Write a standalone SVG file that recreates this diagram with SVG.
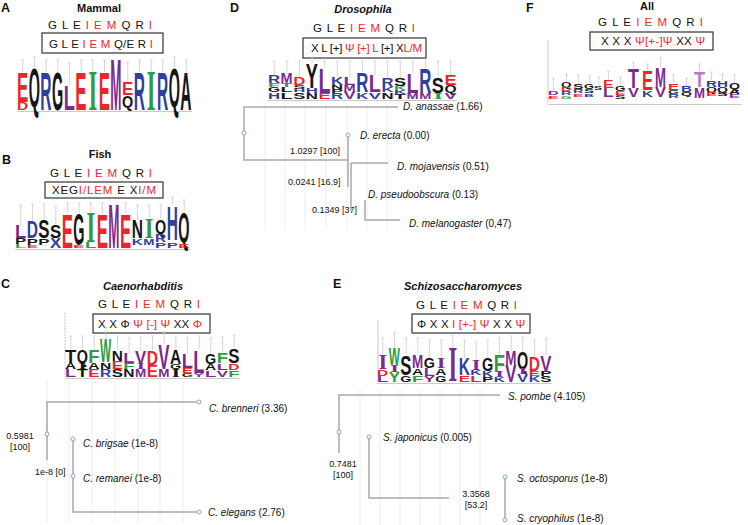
<svg xmlns="http://www.w3.org/2000/svg" width="748" height="525" viewBox="0 0 748 525">
<style>
.t{font-family:"Liberation Sans",Arial,sans-serif;fill:#111}
.lg{font-family:"Liberation Sans",Arial,sans-serif;font-weight:bold;font-size:10px}
.ls{font-family:"Liberation Serif","Times New Roman",serif;font-weight:bold;font-size:10px}
.r{fill:#e8262c}.b{fill:#2e3f9e}.k{fill:#151515}.p{fill:#7b2b8f}.g{fill:#2e9b45}.lp{fill:#b67ac4}
.red{fill:#ea2a2f}
.seq{font-size:11.5px}
.pl{font-size:12.5px;font-weight:bold}
.ttl{font-size:11px;font-weight:bold;text-anchor:middle}
.lbl{font-size:10px}
.num{font-size:9px}
.mid{text-anchor:middle}
.box{fill:none;stroke:#333;stroke-width:1.2}
.eb{fill:none;stroke:#cdcdcd;stroke-width:0.8}
.ax{fill:none;stroke:#bdbdbd;stroke-width:0.8}
.grid{fill:none;stroke:#ededed;stroke-width:1}
.tree{fill:none;stroke:#a9a9a9;stroke-width:1.5}
.node{fill:#fff;stroke:#8aa6d0;stroke-width:1}
</style>

<!-- Panel A -->
<g id="panelA">
<text class="t pl" x="1" y="12">A</text>
<text class="t ttl" x="99" y="12">Mammal</text>
<text class="t seq" x="48" y="29" textLength="104" lengthAdjust="spacing">G L E <tspan class="red">I E M</tspan> Q R <tspan class="red">I</tspan></text>
<rect class="box" x="42" y="33" width="121" height="20"/>
<text class="t seq" x="49" y="48" textLength="104" lengthAdjust="spacing">G L E <tspan class="red">I E M</tspan> Q/E R <tspan class="red">I</tspan></text>
<path class="eb" d="M21.3 60h3m-1.5 0v12 M33 57h3m-1.5 0v10 M44.7 60h3m-1.5 0v12 M56.3 60h3m-1.5 0v12 M68 63h3m-1.5 0v22 M79.7 60h3m-1.5 0v12 M91.3 60h3m-1.5 0v12 M103 60h3m-1.5 0v12 M126.3 62h3m-1.5 0v20 M138 60h3m-1.5 0v12 M149.7 60h3m-1.5 0v12 M161.3 60h3m-1.5 0v12 M173 57h3m-1.5 0v10 M184.7 60h3m-1.5 0v12"/>
<path class="ax" d="M17 111.5H192"/>
<g transform="translate(17,110)">
<text class="lg r" transform="translate(0,-8) scale(1,4.19)" textLength="11.2" lengthAdjust="spacingAndGlyphs">E</text>
<text class="lg r" transform="translate(0,0) scale(1,1.12)" textLength="11.2" lengthAdjust="spacingAndGlyphs">D</text>
<text class="lg k" transform="translate(11.7,-3) scale(1,5.59)" textLength="11.2" lengthAdjust="spacingAndGlyphs">Q</text>
<text class="lg b" transform="translate(23.3,0) scale(1,5.31)" textLength="11.2" lengthAdjust="spacingAndGlyphs">R</text>
<text class="lg k" transform="translate(35,0) scale(1,5.31)" textLength="11.2" lengthAdjust="spacingAndGlyphs">G</text>
<text class="lg p" transform="translate(46.7,0) scale(1,3.49)" textLength="11.2" lengthAdjust="spacingAndGlyphs">L</text>
<text class="lg r" transform="translate(58.3,0) scale(1,5.31)" textLength="11.2" lengthAdjust="spacingAndGlyphs">E</text>
<text class="ls g" transform="translate(71.5,0) scale(1,5.74)" textLength="8.7" lengthAdjust="spacingAndGlyphs">I</text>
<text class="lg r" transform="translate(81.7,0) scale(1,5.31)" textLength="11.2" lengthAdjust="spacingAndGlyphs">E</text>
<text class="lg p" transform="translate(93.3,0) scale(1,7.26)" textLength="11.2" lengthAdjust="spacingAndGlyphs">M</text>
<text class="lg r" transform="translate(105,-15) scale(1,1.82)" textLength="11.2" lengthAdjust="spacingAndGlyphs">E</text>
<text class="lg k" transform="translate(105,-2) scale(1,1.68)" textLength="11.2" lengthAdjust="spacingAndGlyphs">Q</text>
<text class="lg b" transform="translate(116.7,0) scale(1,5.31)" textLength="11.2" lengthAdjust="spacingAndGlyphs">R</text>
<text class="ls g" transform="translate(129.8,0) scale(1,5.74)" textLength="8.7" lengthAdjust="spacingAndGlyphs">I</text>
<text class="lg b" transform="translate(140,0) scale(1,5.31)" textLength="11.2" lengthAdjust="spacingAndGlyphs">R</text>
<text class="lg k" transform="translate(151.7,-3) scale(1,5.59)" textLength="11.2" lengthAdjust="spacingAndGlyphs">Q</text>
<text class="lg k" transform="translate(163.3,0) scale(1,5.31)" textLength="11.2" lengthAdjust="spacingAndGlyphs">A</text>
</g>
</g>

<!-- Panel B -->
<g id="panelB">
<text class="t pl" x="2" y="164">B</text>
<text class="t ttl" x="100" y="158">Fish</text>
<text class="t seq" x="50" y="177" textLength="102" lengthAdjust="spacing">G L E <tspan class="red">I E M</tspan> Q R <tspan class="red">I</tspan></text>
<rect class="box" x="45" y="182" width="118" height="16"/>
<text class="t seq" x="52" y="194" textLength="104" lengthAdjust="spacing">XEG<tspan class="red">I/LEM</tspan> E X<tspan class="red">I/M</tspan></text>
<path class="eb" d="M19.3 205h3m-1.5 0v20 M31 204h3m-1.5 0v17 M42.7 204h3m-1.5 0v16 M54.3 206h3m-1.5 0v19 M66 203h3m-1.5 0v10 M77.7 203h3m-1.5 0v10 M89.3 203h3m-1.5 0v10 M101 203h3m-1.5 0v10 M124.3 203h3m-1.5 0v10 M136 205h3m-1.5 0v15 M147.7 205h3m-1.5 0v13 M159.3 205h3m-1.5 0v14 M171 197h3m-1.5 0v8 M182.7 200h3m-1.5 0v12"/>
<path class="ax" d="M15 249.5H190"/>
<g transform="translate(15,248)">
<text class="lg p" transform="translate(0,-10) scale(1,1.82)" textLength="11.2" lengthAdjust="spacingAndGlyphs">L</text>
<text class="lg k" transform="translate(0,-4) scale(1,0.84)" textLength="11.2" lengthAdjust="spacingAndGlyphs">P</text>
<text class="lg g" transform="translate(0,0) scale(1,0.56)" textLength="11.2" lengthAdjust="spacingAndGlyphs">L</text>
<text class="lg b" transform="translate(11.7,-10) scale(1,2.37)" textLength="11.2" lengthAdjust="spacingAndGlyphs">D</text>
<text class="lg k" transform="translate(11.7,-3) scale(1,0.98)" textLength="11.2" lengthAdjust="spacingAndGlyphs">P</text>
<text class="lg r" transform="translate(11.7,0) scale(1,0.42)" textLength="11.2" lengthAdjust="spacingAndGlyphs">E</text>
<text class="lg k" transform="translate(23.3,-10) scale(1,2.51)" textLength="11.2" lengthAdjust="spacingAndGlyphs">S</text>
<text class="lg k" transform="translate(23.3,-3) scale(1,0.98)" textLength="11.2" lengthAdjust="spacingAndGlyphs">P</text>
<text class="lg k" transform="translate(35,-10) scale(1,1.82)" textLength="11.2" lengthAdjust="spacingAndGlyphs">S</text>
<text class="lg b" transform="translate(35,0) scale(1,1.40)" textLength="11.2" lengthAdjust="spacingAndGlyphs">X</text>
<text class="lg r" transform="translate(46.7,0) scale(1,4.89)" textLength="11.2" lengthAdjust="spacingAndGlyphs">E</text>
<text class="lg k" transform="translate(58.3,-3) scale(1,4.47)" textLength="11.2" lengthAdjust="spacingAndGlyphs">G</text>
<text class="lg r" transform="translate(58.3,0) scale(1,0.42)" textLength="11.2" lengthAdjust="spacingAndGlyphs">E</text>
<text class="ls g" transform="translate(71.5,-6) scale(1,4.38)" textLength="8.7" lengthAdjust="spacingAndGlyphs">I</text>
<text class="lg g" transform="translate(70,0) scale(1,0.84)" textLength="11.2" lengthAdjust="spacingAndGlyphs">L</text>
<text class="lg r" transform="translate(81.7,0) scale(1,4.89)" textLength="11.2" lengthAdjust="spacingAndGlyphs">E</text>
<text class="lg p" transform="translate(93.3,0) scale(1,6.28)" textLength="11.2" lengthAdjust="spacingAndGlyphs">M</text>
<text class="lg r" transform="translate(105,0) scale(1,4.89)" textLength="11.2" lengthAdjust="spacingAndGlyphs">E</text>
<text class="lg k" transform="translate(116.7,-10) scale(1,2.51)" textLength="11.2" lengthAdjust="spacingAndGlyphs">N</text>
<text class="lg b" transform="translate(116.7,-3) scale(1,0.98)" textLength="11.2" lengthAdjust="spacingAndGlyphs">K</text>
<text class="ls g" transform="translate(129.8,-10) scale(1,3.02)" textLength="8.7" lengthAdjust="spacingAndGlyphs">I</text>
<text class="lg b" transform="translate(128.3,-3) scale(1,0.98)" textLength="11.2" lengthAdjust="spacingAndGlyphs">M</text>
<text class="lg k" transform="translate(140,-14) scale(1,2.09)" textLength="11.2" lengthAdjust="spacingAndGlyphs">Q</text>
<text class="lg b" transform="translate(140,-6) scale(1,1.12)" textLength="11.2" lengthAdjust="spacingAndGlyphs">R</text>
<text class="lg b" transform="translate(140,0) scale(1,0.70)" textLength="11.2" lengthAdjust="spacingAndGlyphs">P</text>
<text class="lg b" transform="translate(151.7,-8) scale(1,4.89)" textLength="11.2" lengthAdjust="spacingAndGlyphs">H</text>
<text class="lg b" transform="translate(151.7,0) scale(1,0.70)" textLength="11.2" lengthAdjust="spacingAndGlyphs">P</text>
<text class="lg k" transform="translate(163.3,-6) scale(1,4.19)" textLength="11.2" lengthAdjust="spacingAndGlyphs">Q</text>
<text class="lg r" transform="translate(163.3,0) scale(1,0.56)" textLength="11.2" lengthAdjust="spacingAndGlyphs">E</text>
</g>
</g>

<!-- Panel C -->
<g id="panelC">
<text class="t pl" x="1" y="288">C</text>
<text class="t ttl" x="143" y="290" font-style="italic">Caenorhabditis</text>
<text class="t seq" x="98" y="308" textLength="102" lengthAdjust="spacing">G L E <tspan class="red">I E M</tspan> Q R <tspan class="red">I</tspan></text>
<rect class="box" x="93" y="314" width="117" height="19"/>
<text class="t seq" x="98" y="328" textLength="104" lengthAdjust="spacing">X X Φ <tspan class="red">Ψ [-] Ψ</tspan> XX <tspan class="red">Φ</tspan></text>
<path class="ax" d="M65 313V377" stroke-dasharray="2,1"/>
<path class="ax" d="M65 378.5H240"/>
<path class="eb" d="M69.3 336h3m-1.5 0v14 M81 336h3m-1.5 0v14 M92.7 336h3m-1.5 0v14 M104.3 328h3m-1.5 0v10 M116 336h3m-1.5 0v14 M127.7 338h3m-1.5 0v15 M139.3 337h3m-1.5 0v14 M151 336h3m-1.5 0v14 M162.7 332h3m-1.5 0v12 M174.3 336h3m-1.5 0v14 M186 338h3m-1.5 0v16 M197.7 336h3m-1.5 0v14 M209.3 338h3m-1.5 0v16 M221 337h3m-1.5 0v15 M232.7 335h3m-1.5 0v13"/>
<g transform="translate(65,377)">
<text class="lg k" transform="translate(0,-14) scale(1,1.82)" textLength="11.2" lengthAdjust="spacingAndGlyphs">T</text>
<text class="lg k" transform="translate(0,-8) scale(1,0.84)" textLength="11.2" lengthAdjust="spacingAndGlyphs">A</text>
<text class="lg p" transform="translate(0,0) scale(1,1.12)" textLength="11.2" lengthAdjust="spacingAndGlyphs">L</text>
<text class="lg k" transform="translate(11.7,-14) scale(1,1.82)" textLength="11.2" lengthAdjust="spacingAndGlyphs">Q</text>
<text class="ls k" transform="translate(13.2,-8) scale(1,0.91)" textLength="8.7" lengthAdjust="spacingAndGlyphs">I</text>
<text class="lg k" transform="translate(11.7,0) scale(1,1.12)" textLength="11.2" lengthAdjust="spacingAndGlyphs">T</text>
<text class="lg g" transform="translate(23.3,-14) scale(1,1.82)" textLength="11.2" lengthAdjust="spacingAndGlyphs">F</text>
<text class="lg k" transform="translate(23.3,-8) scale(1,0.84)" textLength="11.2" lengthAdjust="spacingAndGlyphs">A</text>
<text class="lg r" transform="translate(23.3,0) scale(1,1.12)" textLength="11.2" lengthAdjust="spacingAndGlyphs">E</text>
<text class="lg g" transform="translate(35,-15) scale(1,3.35)" textLength="11.2" lengthAdjust="spacingAndGlyphs">W</text>
<text class="lg k" transform="translate(35,-8) scale(1,0.98)" textLength="11.2" lengthAdjust="spacingAndGlyphs">N</text>
<text class="lg b" transform="translate(35,0) scale(1,1.12)" textLength="11.2" lengthAdjust="spacingAndGlyphs">R</text>
<text class="lg k" transform="translate(46.7,-16) scale(1,1.54)" textLength="11.2" lengthAdjust="spacingAndGlyphs">N</text>
<text class="lg r" transform="translate(46.7,-8) scale(1,1.12)" textLength="11.2" lengthAdjust="spacingAndGlyphs">E</text>
<text class="lg k" transform="translate(46.7,0) scale(1,1.12)" textLength="11.2" lengthAdjust="spacingAndGlyphs">S</text>
<text class="lg p" transform="translate(58.3,-14) scale(1,1.40)" textLength="11.2" lengthAdjust="spacingAndGlyphs">L</text>
<text class="lg g" transform="translate(58.3,-8) scale(1,0.84)" textLength="11.2" lengthAdjust="spacingAndGlyphs">F</text>
<text class="lg k" transform="translate(58.3,0) scale(1,1.12)" textLength="11.2" lengthAdjust="spacingAndGlyphs">N</text>
<text class="lg p" transform="translate(70,-13) scale(1,1.82)" textLength="11.2" lengthAdjust="spacingAndGlyphs">V</text>
<text class="ls p" transform="translate(71.5,-8) scale(1,0.76)" textLength="8.7" lengthAdjust="spacingAndGlyphs">I</text>
<text class="lg p" transform="translate(70,0) scale(1,1.12)" textLength="11.2" lengthAdjust="spacingAndGlyphs">M</text>
<text class="lg r" transform="translate(81.7,-12) scale(1,2.09)" textLength="11.2" lengthAdjust="spacingAndGlyphs">D</text>
<text class="lg r" transform="translate(81.7,0) scale(1,1.68)" textLength="11.2" lengthAdjust="spacingAndGlyphs">E</text>
<text class="lg p" transform="translate(93.3,-8) scale(1,3.49)" textLength="11.2" lengthAdjust="spacingAndGlyphs">V</text>
<text class="lg p" transform="translate(93.3,0) scale(1,1.12)" textLength="11.2" lengthAdjust="spacingAndGlyphs">M</text>
<text class="lg k" transform="translate(105,-13) scale(1,1.96)" textLength="11.2" lengthAdjust="spacingAndGlyphs">A</text>
<text class="lg k" transform="translate(105,-8) scale(1,0.70)" textLength="11.2" lengthAdjust="spacingAndGlyphs">G</text>
<text class="ls k" transform="translate(106.5,0) scale(1,1.21)" textLength="8.7" lengthAdjust="spacingAndGlyphs">I</text>
<text class="lg p" transform="translate(116.7,-9) scale(1,1.96)" textLength="11.2" lengthAdjust="spacingAndGlyphs">L</text>
<text class="lg r" transform="translate(116.7,-4) scale(1,0.70)" textLength="11.2" lengthAdjust="spacingAndGlyphs">E</text>
<text class="lg k" transform="translate(116.7,0) scale(1,0.56)" textLength="11.2" lengthAdjust="spacingAndGlyphs">G</text>
<text class="lg p" transform="translate(128.3,-4) scale(1,3.21)" textLength="11.2" lengthAdjust="spacingAndGlyphs">L</text>
<text class="lg p" transform="translate(128.3,0) scale(1,0.56)" textLength="11.2" lengthAdjust="spacingAndGlyphs">Y</text>
<text class="lg k" transform="translate(140,-13) scale(1,1.40)" textLength="11.2" lengthAdjust="spacingAndGlyphs">G</text>
<text class="lg k" transform="translate(140,-7) scale(1,0.84)" textLength="11.2" lengthAdjust="spacingAndGlyphs">A</text>
<text class="lg p" transform="translate(140,0) scale(1,0.98)" textLength="11.2" lengthAdjust="spacingAndGlyphs">L</text>
<text class="lg g" transform="translate(151.7,-14) scale(1,1.54)" textLength="11.2" lengthAdjust="spacingAndGlyphs">F</text>
<text class="lg p" transform="translate(151.7,-7) scale(1,0.98)" textLength="11.2" lengthAdjust="spacingAndGlyphs">L</text>
<text class="lg p" transform="translate(151.7,0) scale(1,0.98)" textLength="11.2" lengthAdjust="spacingAndGlyphs">V</text>
<text class="lg k" transform="translate(163.3,-14) scale(1,2.09)" textLength="11.2" lengthAdjust="spacingAndGlyphs">S</text>
<text class="lg r" transform="translate(163.3,-7) scale(1,0.98)" textLength="11.2" lengthAdjust="spacingAndGlyphs">D</text>
<text class="lg g" transform="translate(163.3,0) scale(1,0.98)" textLength="11.2" lengthAdjust="spacingAndGlyphs">F</text>
</g>
<path class="grid" d="M47 380V522 M69 380V522 M92 380V522 M115 380V522 M138 380V522 M160 380V522 M183 380V522"/>
<g id="leafC1"><text class="t lbl" x="209" y="412"><tspan font-style="italic">C. brenneri</tspan> (3.36)</text></g>
<g id="leafC2"><text class="t lbl" x="83" y="447"><tspan font-style="italic">C. brigsae</tspan> (1e-8)</text></g>
<g id="leafC3"><text class="t lbl" x="83" y="482"><tspan font-style="italic">C. remanei</tspan> (1e-8)</text></g>
<g id="leafC4"><text class="t lbl" x="208" y="516"><tspan font-style="italic">C. elegans</tspan> (2.76)</text></g>
<text class="t num mid" x="20" y="439">0.5981</text>
<text class="t num mid" x="20" y="450">[100]</text>
<text class="t num" x="35" y="475">1e-8 [0]</text>
</g>

<!-- Panel D -->
<g id="panelD">
<text class="t pl" x="230" y="12">D</text>
<text class="t ttl" x="363" y="13" font-style="italic">Drosophila</text>
<text class="t seq" x="313" y="32" textLength="102" lengthAdjust="spacing">G L E <tspan class="red">I E M</tspan> Q R <tspan class="red">I</tspan></text>
<rect class="box" x="303" y="38" width="123" height="20"/>
<text class="t seq" x="311" y="52" textLength="111" lengthAdjust="spacing">X  L [+] <tspan class="red">Ψ [+] L</tspan> [+] X<tspan class="red">L/M</tspan></text>
<path class="eb" d="M272.8 61h3m-1.5 0v14 M285.4 61h3m-1.5 0v12 M298 61h3m-1.5 0v16 M310.6 57h3m-1.5 0v6 M323.2 59h3m-1.5 0v9 M335.8 61h3m-1.5 0v16 M348.4 61h3m-1.5 0v16 M361 61h3m-1.5 0v11 M373.6 61h3m-1.5 0v14 M386.2 61h3m-1.5 0v17 M398.8 61h3m-1.5 0v17 M411.4 61h3m-1.5 0v12 M424 59h3m-1.5 0v9 M436.6 61h3m-1.5 0v16 M449.2 61h3m-1.5 0v14"/>
<path class="ax" d="M268 100.5H457"/>
<g transform="translate(268,99)">
<text class="lg b" transform="translate(0,-16) scale(1,1.12)" textLength="12.1" lengthAdjust="spacingAndGlyphs">R</text>
<text class="lg g" transform="translate(0,-12) scale(1,0.56)" textLength="12.1" lengthAdjust="spacingAndGlyphs">F</text>
<text class="lg k" transform="translate(0,-7) scale(1,0.70)" textLength="12.1" lengthAdjust="spacingAndGlyphs">G</text>
<text class="lg b" transform="translate(0,0) scale(1,0.98)" textLength="12.1" lengthAdjust="spacingAndGlyphs">H</text>
<text class="lg p" transform="translate(12.6,-16) scale(1,1.54)" textLength="12.1" lengthAdjust="spacingAndGlyphs">M</text>
<text class="lg g" transform="translate(12.6,-12) scale(1,0.56)" textLength="12.1" lengthAdjust="spacingAndGlyphs">T</text>
<text class="lg k" transform="translate(12.6,-7) scale(1,0.70)" textLength="12.1" lengthAdjust="spacingAndGlyphs">L</text>
<text class="lg k" transform="translate(12.6,0) scale(1,0.98)" textLength="12.1" lengthAdjust="spacingAndGlyphs">L</text>
<text class="lg r" transform="translate(25.2,-14) scale(1,1.12)" textLength="12.1" lengthAdjust="spacingAndGlyphs">D</text>
<text class="lg k" transform="translate(25.2,-10) scale(1,0.56)" textLength="12.1" lengthAdjust="spacingAndGlyphs">S</text>
<text class="lg b" transform="translate(25.2,-7) scale(1,0.42)" textLength="12.1" lengthAdjust="spacingAndGlyphs">H</text>
<text class="lg k" transform="translate(25.2,0) scale(1,0.98)" textLength="12.1" lengthAdjust="spacingAndGlyphs">S</text>
<text class="lg k" transform="translate(37.8,-11) scale(1,3.49)" textLength="12.1" lengthAdjust="spacingAndGlyphs">Y</text>
<text class="lg b" transform="translate(37.8,-6) scale(1,0.70)" textLength="12.1" lengthAdjust="spacingAndGlyphs">H</text>
<text class="lg k" transform="translate(37.8,0) scale(1,0.84)" textLength="12.1" lengthAdjust="spacingAndGlyphs">N</text>
<text class="lg p" transform="translate(50.4,-6) scale(1,3.49)" textLength="12.1" lengthAdjust="spacingAndGlyphs">L</text>
<text class="lg r" transform="translate(50.4,0) scale(1,0.84)" textLength="12.1" lengthAdjust="spacingAndGlyphs">E</text>
<text class="lg b" transform="translate(63,-14) scale(1,1.12)" textLength="12.1" lengthAdjust="spacingAndGlyphs">K</text>
<text class="lg k" transform="translate(63,-10) scale(1,0.56)" textLength="12.1" lengthAdjust="spacingAndGlyphs">N</text>
<text class="lg k" transform="translate(63,-6) scale(1,0.56)" textLength="12.1" lengthAdjust="spacingAndGlyphs">P</text>
<text class="lg b" transform="translate(63,0) scale(1,0.84)" textLength="12.1" lengthAdjust="spacingAndGlyphs">R</text>
<text class="lg p" transform="translate(75.6,-14) scale(1,1.12)" textLength="12.1" lengthAdjust="spacingAndGlyphs">L</text>
<text class="lg p" transform="translate(75.6,-8) scale(1,0.84)" textLength="12.1" lengthAdjust="spacingAndGlyphs">M</text>
<text class="lg p" transform="translate(75.6,0) scale(1,1.12)" textLength="12.1" lengthAdjust="spacingAndGlyphs">V</text>
<text class="lg b" transform="translate(88.2,-7) scale(1,2.79)" textLength="12.1" lengthAdjust="spacingAndGlyphs">R</text>
<text class="lg b" transform="translate(88.2,0) scale(1,0.98)" textLength="12.1" lengthAdjust="spacingAndGlyphs">K</text>
<text class="lg p" transform="translate(100.8,-7) scale(1,2.37)" textLength="12.1" lengthAdjust="spacingAndGlyphs">L</text>
<text class="lg b" transform="translate(100.8,0) scale(1,0.98)" textLength="12.1" lengthAdjust="spacingAndGlyphs">V</text>
<text class="lg b" transform="translate(113.4,-12) scale(1,1.26)" textLength="12.1" lengthAdjust="spacingAndGlyphs">R</text>
<text class="lg b" transform="translate(113.4,-7) scale(1,0.70)" textLength="12.1" lengthAdjust="spacingAndGlyphs">K</text>
<text class="lg k" transform="translate(113.4,0) scale(1,0.98)" textLength="12.1" lengthAdjust="spacingAndGlyphs">N</text>
<text class="lg k" transform="translate(126,-13) scale(1,1.12)" textLength="12.1" lengthAdjust="spacingAndGlyphs">S</text>
<text class="lg g" transform="translate(126,-9) scale(1,0.56)" textLength="12.1" lengthAdjust="spacingAndGlyphs">K</text>
<text class="lg b" transform="translate(126,-5) scale(1,0.56)" textLength="12.1" lengthAdjust="spacingAndGlyphs">K</text>
<text class="lg k" transform="translate(126,0) scale(1,0.70)" textLength="12.1" lengthAdjust="spacingAndGlyphs">T</text>
<text class="lg p" transform="translate(138.6,-6) scale(1,2.79)" textLength="12.1" lengthAdjust="spacingAndGlyphs">L</text>
<text class="lg p" transform="translate(138.6,0) scale(1,0.84)" textLength="12.1" lengthAdjust="spacingAndGlyphs">M</text>
<text class="lg b" transform="translate(151.2,-6) scale(1,3.49)" textLength="12.1" lengthAdjust="spacingAndGlyphs">R</text>
<text class="lg p" transform="translate(151.2,0) scale(1,0.84)" textLength="12.1" lengthAdjust="spacingAndGlyphs">M</text>
<text class="lg k" transform="translate(163.8,-6) scale(1,2.23)" textLength="12.1" lengthAdjust="spacingAndGlyphs">S</text>
<text class="ls g" transform="translate(165.4,0) scale(1,0.91)" textLength="9.4" lengthAdjust="spacingAndGlyphs">I</text>
<text class="lg r" transform="translate(176.4,-14) scale(1,1.40)" textLength="12.1" lengthAdjust="spacingAndGlyphs">E</text>
<text class="lg k" transform="translate(176.4,-6) scale(1,1.12)" textLength="12.1" lengthAdjust="spacingAndGlyphs">Q</text>
<text class="lg p" transform="translate(176.4,0) scale(1,0.84)" textLength="12.1" lengthAdjust="spacingAndGlyphs">V</text>
</g>
<path class="grid" d="M265 103V230 M285 103V230 M305 103V230 M326 103V230 M347 103V230 M367 103V230 M387 103V230"/>
<g id="leafD1"><text class="t lbl" x="403" y="110"><tspan font-style="italic">D. anassae</tspan> (1.66)</text></g>
<g id="leafD2"><text class="t lbl" x="360" y="139"><tspan font-style="italic">D. erecta</tspan> (0.00)</text></g>
<g id="leafD3"><text class="t lbl" x="397" y="170"><tspan font-style="italic">D. mojavensis</tspan> (0.51)</text></g>
<g id="leafD4"><text class="t lbl" x="368" y="198"><tspan font-style="italic">D. pseudoobscura</tspan> (0.13)</text></g>
<g id="leafD5"><text class="t lbl" x="409" y="227"><tspan font-style="italic">D. melanogaster</tspan> (0,47)</text></g>
<text class="t num" x="290" y="154">1.0297 [100]</text>
<text class="t num" x="288" y="185">0.0241 [16.9]</text>
<text class="t num" x="312" y="213">0.1349 [37]</text>
</g>

<!-- Panel E -->
<g id="panelE">
<text class="t pl" x="333" y="288">E</text>
<text class="t ttl" x="463" y="290" font-style="italic">Schizosaccharomyces</text>
<text class="t seq" x="416" y="309" textLength="101" lengthAdjust="spacing">G L E <tspan class="red">I E M</tspan> Q R <tspan class="red">I</tspan></text>
<rect class="box" x="412" y="314" width="118" height="19"/>
<text class="t seq" x="417" y="328" textLength="108" lengthAdjust="spacing">Φ X X <tspan class="red">I [+-] Ψ</tspan> X X <tspan class="red">Ψ</tspan></text>
<path class="ax" d="M378 320V382"/>
<path class="ax" d="M377 383.5H552"/>
<path class="eb" d="M381.3 338h3m-1.5 0v17 M393 333h3m-1.5 0v15 M404.7 338h3m-1.5 0v17 M416.3 338h3m-1.5 0v17 M428 340h3m-1.5 0v18 M439.7 340h3m-1.5 0v18 M451.3 335h3m-1.5 0v13 M463 340h3m-1.5 0v18 M474.7 342h3m-1.5 0v18 M486.3 340h3m-1.5 0v18 M498 338h3m-1.5 0v17 M509.7 336h3m-1.5 0v14 M521.3 337h3m-1.5 0v15 M533 340h3m-1.5 0v17 M544.7 338h3m-1.5 0v17"/>
<g transform="translate(377,382)">
<text class="ls p" transform="translate(1.5,-13) scale(1,2.11)" textLength="8.7" lengthAdjust="spacingAndGlyphs">I</text>
<text class="lg r" transform="translate(0,-6) scale(1,0.98)" textLength="11.2" lengthAdjust="spacingAndGlyphs">D</text>
<text class="lg p" transform="translate(0,0) scale(1,0.84)" textLength="11.2" lengthAdjust="spacingAndGlyphs">L</text>
<text class="lg g" transform="translate(11.7,-17) scale(1,2.37)" textLength="11.2" lengthAdjust="spacingAndGlyphs">W</text>
<text class="ls p" transform="translate(13.2,-10) scale(1,1.06)" textLength="8.7" lengthAdjust="spacingAndGlyphs">I</text>
<text class="lg g" transform="translate(11.7,0) scale(1,1.40)" textLength="11.2" lengthAdjust="spacingAndGlyphs">Y</text>
<text class="lg k" transform="translate(23.3,-7) scale(1,2.79)" textLength="11.2" lengthAdjust="spacingAndGlyphs">S</text>
<text class="lg k" transform="translate(23.3,0) scale(1,0.98)" textLength="11.2" lengthAdjust="spacingAndGlyphs">G</text>
<text class="lg p" transform="translate(35,-14) scale(1,1.82)" textLength="11.2" lengthAdjust="spacingAndGlyphs">M</text>
<text class="lg k" transform="translate(35,-7) scale(1,0.98)" textLength="11.2" lengthAdjust="spacingAndGlyphs">A</text>
<text class="lg g" transform="translate(35,0) scale(1,0.98)" textLength="11.2" lengthAdjust="spacingAndGlyphs">F</text>
<text class="lg k" transform="translate(46.7,-14) scale(1,1.40)" textLength="11.2" lengthAdjust="spacingAndGlyphs">G</text>
<text class="lg p" transform="translate(46.7,-6) scale(1,1.12)" textLength="11.2" lengthAdjust="spacingAndGlyphs">L</text>
<text class="lg p" transform="translate(46.7,0) scale(1,0.84)" textLength="11.2" lengthAdjust="spacingAndGlyphs">Y</text>
<text class="ls p" transform="translate(59.8,-14) scale(1,1.51)" textLength="8.7" lengthAdjust="spacingAndGlyphs">I</text>
<text class="lg k" transform="translate(58.3,-7) scale(1,0.98)" textLength="11.2" lengthAdjust="spacingAndGlyphs">A</text>
<text class="lg k" transform="translate(58.3,0) scale(1,0.98)" textLength="11.2" lengthAdjust="spacingAndGlyphs">G</text>
<text class="ls p" transform="translate(71.5,-1) scale(1,4.98)" textLength="8.7" lengthAdjust="spacingAndGlyphs">I</text>
<text class="lg b" transform="translate(81.7,-7) scale(1,2.37)" textLength="11.2" lengthAdjust="spacingAndGlyphs">K</text>
<text class="lg r" transform="translate(81.7,0) scale(1,0.98)" textLength="11.2" lengthAdjust="spacingAndGlyphs">E</text>
<text class="ls p" transform="translate(94.8,-12) scale(1,1.51)" textLength="8.7" lengthAdjust="spacingAndGlyphs">I</text>
<text class="lg b" transform="translate(93.3,-7) scale(1,0.70)" textLength="11.2" lengthAdjust="spacingAndGlyphs">K</text>
<text class="lg r" transform="translate(93.3,0) scale(1,0.98)" textLength="11.2" lengthAdjust="spacingAndGlyphs">L</text>
<text class="lg k" transform="translate(105,-11) scale(1,1.82)" textLength="11.2" lengthAdjust="spacingAndGlyphs">G</text>
<text class="lg b" transform="translate(105,-5) scale(1,0.84)" textLength="11.2" lengthAdjust="spacingAndGlyphs">K</text>
<text class="lg k" transform="translate(105,0) scale(1,0.70)" textLength="11.2" lengthAdjust="spacingAndGlyphs">P</text>
<text class="lg g" transform="translate(116.7,-10) scale(1,2.37)" textLength="11.2" lengthAdjust="spacingAndGlyphs">F</text>
<text class="ls p" transform="translate(118.2,-5) scale(1,0.76)" textLength="8.7" lengthAdjust="spacingAndGlyphs">I</text>
<text class="lg b" transform="translate(116.7,0) scale(1,0.70)" textLength="11.2" lengthAdjust="spacingAndGlyphs">K</text>
<text class="lg p" transform="translate(128.3,-17) scale(1,2.09)" textLength="11.2" lengthAdjust="spacingAndGlyphs">M</text>
<text class="lg p" transform="translate(128.3,0) scale(1,2.37)" textLength="11.2" lengthAdjust="spacingAndGlyphs">V</text>
<text class="lg k" transform="translate(140,-13) scale(1,2.37)" textLength="11.2" lengthAdjust="spacingAndGlyphs">Q</text>
<text class="ls p" transform="translate(141.5,-8) scale(1,0.76)" textLength="8.7" lengthAdjust="spacingAndGlyphs">I</text>
<text class="lg b" transform="translate(140,0) scale(1,1.12)" textLength="11.2" lengthAdjust="spacingAndGlyphs">V</text>
<text class="lg r" transform="translate(151.7,-11) scale(1,1.96)" textLength="11.2" lengthAdjust="spacingAndGlyphs">D</text>
<text class="lg r" transform="translate(151.7,-6) scale(1,0.70)" textLength="11.2" lengthAdjust="spacingAndGlyphs">E</text>
<text class="lg b" transform="translate(151.7,0) scale(1,0.84)" textLength="11.2" lengthAdjust="spacingAndGlyphs">K</text>
<text class="lg p" transform="translate(163.3,-11) scale(1,2.23)" textLength="11.2" lengthAdjust="spacingAndGlyphs">V</text>
<text class="lg k" transform="translate(163.3,-6) scale(1,0.70)" textLength="11.2" lengthAdjust="spacingAndGlyphs">P</text>
<text class="lg k" transform="translate(163.3,0) scale(1,0.84)" textLength="11.2" lengthAdjust="spacingAndGlyphs">S</text>
</g>
<path class="grid" d="M360 390V525 M380 390V525 M400 390V525 M420 390V525 M440 390V525 M460 390V525 M480 390V525"/>
<g id="leafE1"><text class="t lbl" x="508" y="400"><tspan font-style="italic">S. pombe</tspan> (4.105)</text></g>
<g id="leafE2"><text class="t lbl" x="383" y="441"><tspan font-style="italic">S. japonicus</tspan> (0.005)</text></g>
<g id="leafE3"><text class="t lbl" x="517" y="482"><tspan font-style="italic">S. octosporus</tspan> (1e-8)</text></g>
<g id="leafE4"><text class="t lbl" x="517" y="522"><tspan font-style="italic">S. cryophilus</tspan> (1e-8)</text></g>
<text class="t num mid" x="343" y="467">0.7481</text>
<text class="t num mid" x="343" y="478">[100]</text>
<text class="t num mid" x="476" y="497">3.3568</text>
<text class="t num mid" x="476" y="508">[53.2]</text>
</g>

<!-- Panel F -->
<g id="panelF">
<text class="t pl" x="526" y="12">F</text>
<text class="t ttl" x="647" y="10">All</text>
<text class="t seq" x="598" y="26" textLength="105" lengthAdjust="spacing">G L E <tspan class="red">I E M</tspan> Q R <tspan class="red">I</tspan></text>
<rect class="box" x="590" y="32" width="123" height="18"/>
<text class="t seq" x="601" y="45" textLength="104" lengthAdjust="spacing">X X X <tspan class="red">Ψ[+-]Ψ</tspan> XX <tspan class="red">Ψ</tspan></text>
<path class="ax" d="M548 40V103"/>
<path class="ax" d="M548 104.5H742"/>
<path class="eb" d="M552 78h3m-1.5 0v12 M565 74h3m-1.5 0v8 M577 75h3m-1.5 0v9 M588 76h3m-1.5 0v8 M597.5 77h3m-1.5 0v8 M607 71h3m-1.5 0v9 M619 77h3m-1.5 0v9 M632 62h3m-1.5 0v6 M646 64h3m-1.5 0v6 M659 58h3m-1.5 0v9 M672 75h3m-1.5 0v8 M685 78h3m-1.5 0v8 M698 64h3m-1.5 0v7 M710 72h3m-1.5 0v8 M721 74h3m-1.5 0v7 M733 75h3m-1.5 0v8"/>
<g transform="translate(0,103)">
<text class="lg p" transform="translate(548,-8) scale(1,0.56)" textLength="10.5" lengthAdjust="spacingAndGlyphs">D</text>
<text class="lg r" transform="translate(548,-4) scale(1,0.42)" textLength="10.5" lengthAdjust="spacingAndGlyphs">E</text>
<text class="lg k" transform="translate(561,-16) scale(1,0.70)" textLength="10.5" lengthAdjust="spacingAndGlyphs">Q</text>
<text class="lg r" transform="translate(561,-12) scale(1,0.56)" textLength="10.5" lengthAdjust="spacingAndGlyphs">D</text>
<text class="lg b" transform="translate(561,-8) scale(1,0.56)" textLength="10.5" lengthAdjust="spacingAndGlyphs">R</text>
<text class="lg g" transform="translate(561,-4) scale(1,0.42)" textLength="10.5" lengthAdjust="spacingAndGlyphs">G</text>
<text class="lg k" transform="translate(573,-14) scale(1,0.70)" textLength="10.5" lengthAdjust="spacingAndGlyphs">S</text>
<text class="lg b" transform="translate(573,-10) scale(1,0.56)" textLength="10.5" lengthAdjust="spacingAndGlyphs">R</text>
<text class="lg r" transform="translate(573,-6) scale(1,0.42)" textLength="10.5" lengthAdjust="spacingAndGlyphs">E</text>
<text class="lg k" transform="translate(584,-14) scale(1,0.70)" textLength="10" lengthAdjust="spacingAndGlyphs">G</text>
<text class="lg k" transform="translate(584,-10) scale(1,0.56)" textLength="10" lengthAdjust="spacingAndGlyphs">S</text>
<text class="lg b" transform="translate(584,-6) scale(1,0.42)" textLength="10" lengthAdjust="spacingAndGlyphs">B</text>
<text class="lg k" transform="translate(594,-13) scale(1,0.56)" textLength="8" lengthAdjust="spacingAndGlyphs">S</text>
<text class="lg r" transform="translate(603,-15) scale(1,1.12)" textLength="10.5" lengthAdjust="spacingAndGlyphs">E</text>
<text class="lg p" transform="translate(603,-6) scale(1,1.26)" textLength="10.5" lengthAdjust="spacingAndGlyphs">L</text>
<text class="lg k" transform="translate(615,-12) scale(1,0.70)" textLength="10.5" lengthAdjust="spacingAndGlyphs">G</text>
<text class="lg r" transform="translate(615,-8) scale(1,0.56)" textLength="10.5" lengthAdjust="spacingAndGlyphs">E</text>
<text class="lg k" transform="translate(615,-4) scale(1,0.56)" textLength="10.5" lengthAdjust="spacingAndGlyphs">S</text>
<text class="lg p" transform="translate(628,-15) scale(1,2.79)" textLength="11" lengthAdjust="spacingAndGlyphs">T</text>
<text class="lg p" transform="translate(628,-6) scale(1,1.26)" textLength="11" lengthAdjust="spacingAndGlyphs">V</text>
<text class="lg r" transform="translate(642,-13) scale(1,2.79)" textLength="11" lengthAdjust="spacingAndGlyphs">E</text>
<text class="lg b" transform="translate(642,-6) scale(1,0.98)" textLength="11" lengthAdjust="spacingAndGlyphs">K</text>
<text class="lg p" transform="translate(655,-16) scale(1,2.79)" textLength="11" lengthAdjust="spacingAndGlyphs">M</text>
<text class="lg p" transform="translate(655,-6) scale(1,1.40)" textLength="11" lengthAdjust="spacingAndGlyphs">V</text>
<text class="lg r" transform="translate(668,-13) scale(1,0.98)" textLength="11" lengthAdjust="spacingAndGlyphs">E</text>
<text class="lg k" transform="translate(668,-9) scale(1,0.56)" textLength="11" lengthAdjust="spacingAndGlyphs">G</text>
<text class="lg b" transform="translate(668,-5) scale(1,0.56)" textLength="11" lengthAdjust="spacingAndGlyphs">R</text>
<text class="lg b" transform="translate(681,-11) scale(1,0.84)" textLength="11" lengthAdjust="spacingAndGlyphs">B</text>
<text class="lg k" transform="translate(681,-7) scale(1,0.56)" textLength="11" lengthAdjust="spacingAndGlyphs">Q</text>
<text class="lg lp" transform="translate(694,-16) scale(1,2.23)" textLength="11" lengthAdjust="spacingAndGlyphs">T</text>
<text class="lg p" transform="translate(694,-5) scale(1,1.54)" textLength="11" lengthAdjust="spacingAndGlyphs">M</text>
<text class="lg b" transform="translate(706,-16) scale(1,0.98)" textLength="11" lengthAdjust="spacingAndGlyphs">R</text>
<text class="lg k" transform="translate(706,-11) scale(1,0.70)" textLength="11" lengthAdjust="spacingAndGlyphs">Q</text>
<text class="lg r" transform="translate(706,-7) scale(1,0.56)" textLength="11" lengthAdjust="spacingAndGlyphs">E</text>
<text class="lg b" transform="translate(717,-16) scale(1,0.84)" textLength="11" lengthAdjust="spacingAndGlyphs">H</text>
<text class="lg k" transform="translate(717,-11) scale(1,0.70)" textLength="11" lengthAdjust="spacingAndGlyphs">Q</text>
<text class="lg k" transform="translate(717,-7) scale(1,0.56)" textLength="11" lengthAdjust="spacingAndGlyphs">S</text>
<text class="lg k" transform="translate(729,-14) scale(1,0.84)" textLength="11" lengthAdjust="spacingAndGlyphs">Q</text>
<text class="lg k" transform="translate(729,-9) scale(1,0.70)" textLength="11" lengthAdjust="spacingAndGlyphs">A</text>
<text class="lg p" transform="translate(729,-5) scale(1,0.56)" textLength="11" lengthAdjust="spacingAndGlyphs">E</text>
</g>
</g>

<!-- Tree connectors -->
<g id="connectors">
<path class="tree" d="M47 460V402H199 M73 439V512H199"/>
<path class="tree" d="M398 107H244V160H348 M348 135V187 M351 163H388 M351 163V210 M365 200V220H400"/>
<path class="tree" d="M500 395H339V453 M369 437V498H449 M505 477V520"/>
<g class="node">
<circle cx="199" cy="402" r="2"/><circle cx="47" cy="434" r="2"/><circle cx="73" cy="439" r="2"/><circle cx="73" cy="476" r="2"/><circle cx="199" cy="512" r="2"/>
<circle cx="244" cy="133" r="2"/><circle cx="348" cy="135" r="2"/>
<circle cx="339" cy="432" r="2"/><circle cx="369" cy="437" r="2"/><circle cx="505" cy="477" r="2"/><circle cx="505" cy="520" r="2"/>
</g>
</g>
</svg>
